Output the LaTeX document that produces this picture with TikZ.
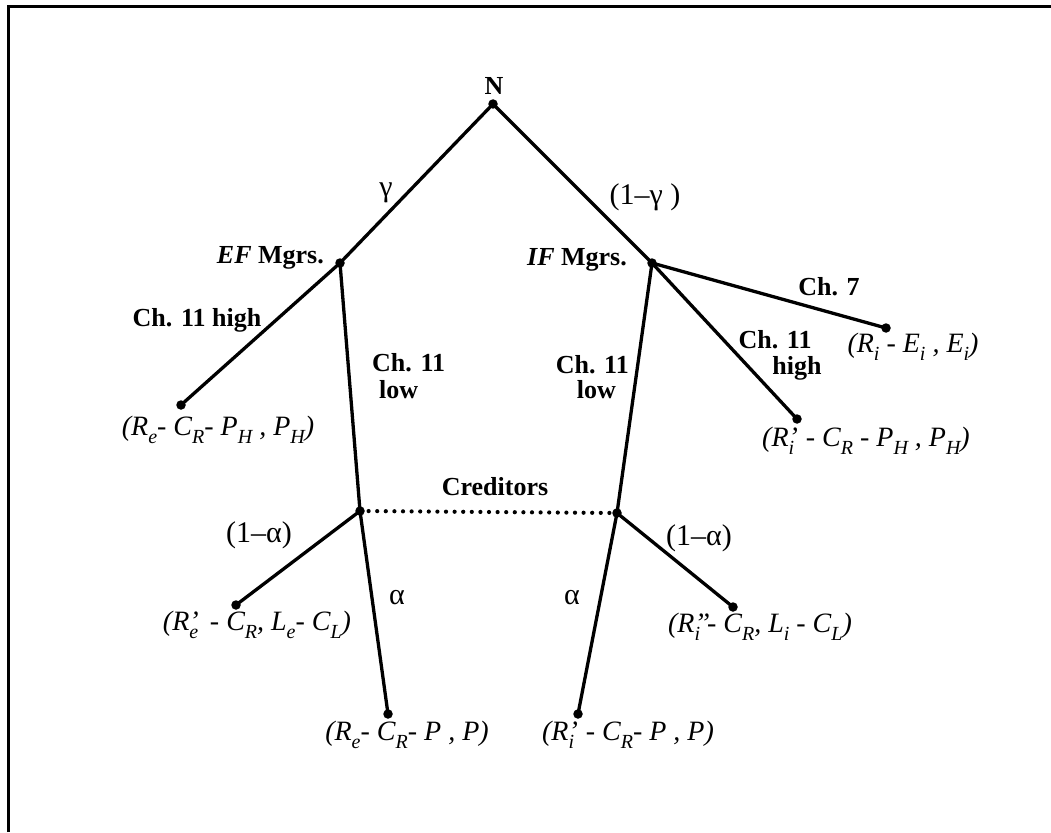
\documentclass[tikz,border=0pt]{standalone}
\usepackage{fontspec}
\setmainfont{Liberation Serif}
\newcommand\ssb[1]{\raisebox{-0.28em}{\fontsize{20}{20}\selectfont #1}}
\newcommand\psb[2]{\rlap{#1}\ssb{#2}}
\begin{document}
\begin{tikzpicture}[x=1pt,y=-1pt,
  edge/.style={line width=3.3pt},
  frameline/.style={line width=3pt},
  dotnode/.style={circle,fill,inner sep=0pt,minimum size=9.5pt},
  lbl/.style={font=\fontsize{26}{28}\selectfont\bfseries, inner sep=0pt},
  greek/.style={font=\fontsize{30}{32}\selectfont, inner sep=0pt},
  pay/.style={font=\fontsize{28}{30}\selectfont\itshape, inner sep=0pt},
  creditline/.style={line width=4.2pt, line cap=round, dash pattern=on 0pt off 8.6pt}]
\useasboundingbox (0,0) rectangle (1051,832);
% frame
\coordinate (fb) at (8,832);
\coordinate (fc) at (8,7);
\coordinate (fr) at (1051,7);
\draw[frameline] (fb) -- (fc) -- (fr);
% decision nodes
\node[dotnode] (N) at (493,104) {};
\node[dotnode] (EF) at (340,263) {};
\node[dotnode] (IF) at (652,263) {};
\node[dotnode] (EH) at (181,405) {};
\node[dotnode] (EC) at (360,511) {};
\node[dotnode] (EL) at (236,605) {};
\node[dotnode] (EA) at (388,714) {};
\node[dotnode] (IC) at (617,513) {};
\node[dotnode] (IL) at (733,607) {};
\node[dotnode] (IA) at (578,714) {};
\node[dotnode] (I7) at (886,328) {};
\node[dotnode] (IH) at (797,419) {};
% edges
\draw[edge] (N.center) -- (EF.center);
\draw[edge] (N.center) -- (IF.center);
\draw[edge] (EF.center) -- (EH.center);
\draw[edge] (EF.center) -- (EC.center);
\draw[edge] (EC.center) -- (EL.center);
\draw[edge] (EC.center) -- (EA.center);
\draw[edge] (IF.center) -- (IC.center);
\draw[edge] (IC.center) -- (IL.center);
\draw[edge] (IC.center) -- (IA.center);
\draw[edge] (IF.center) -- (I7.center);
\draw[edge] (IF.center) -- (IH.center);
\draw[creditline] (EC.center) -- (IC.center);
% labels
\node[lbl] (tN) at (494,86) {N};
\node[greek] (tg) at (386,193) {γ};
\node[greek] (tg1) at (645,197) {(1–γ )};
\node[lbl, anchor=east] (tEF) at (324,258) {\textit{EF} Mgrs.};
\node[lbl] (tIF) at (577,260) {\textit{IF} Mgrs.};
\node[lbl] (tEH) at (197,320) {Ch. 11 high};
\node[lbl, anchor=west] (tEl1) at (372,363) {Ch. 11};
\node[lbl, anchor=west] (tEl2) at (379,390) {low};
\node[lbl, anchor=east] (tIl1) at (629,365) {Ch. 11};
\node[lbl, anchor=east] (tIl2) at (616,390) {low};
\node[lbl] (t7) at (829,287) {Ch. 7};
\node[lbl] (tIh1) at (775,340) {Ch. 11};
\node[lbl] (tIh2) at (797,368) {high};
\node[lbl] (tCr) at (495,487) {Creditors};
\node[greek] (ta1) at (259,535) {(1–α)};
\node[greek] (ta2) at (397,598) {α};
\node[greek] (ta3) at (699,538) {(1–α)};
\node[greek] (ta4) at (572,598) {α};
% payoffs
\node[pay] (pEH) at (218,430) {(R\ssb{e}- C\ssb{R}- P\ssb{H} , P\ssb{H})};
\node[pay] (pI7) at (913,347) {(R\ssb{i} - E\ssb{i} , E\ssb{i})};
\node[pay] (pIH) at (866,441) {(R\psb{'}{i} \,- C\ssb{R} - P\ssb{H} , P\ssb{H})};
\node[pay] (pEL) at (257,625) {(R\psb{'}{e} \,- C\ssb{R}, L\ssb{e}- C\ssb{L})};
\node[pay] (pIL) at (760,627) {(R\psb{''}{i} - C\ssb{R}, L\ssb{i} - C\ssb{L})};
\node[pay] (pEA) at (407,735) {(R\ssb{e}- C\ssb{R}- P , P)};
\node[pay] (pIA) at (628,735) {(R\psb{'}{i} \,- C\ssb{R}- P , P)};
\end{tikzpicture}
\end{document}
